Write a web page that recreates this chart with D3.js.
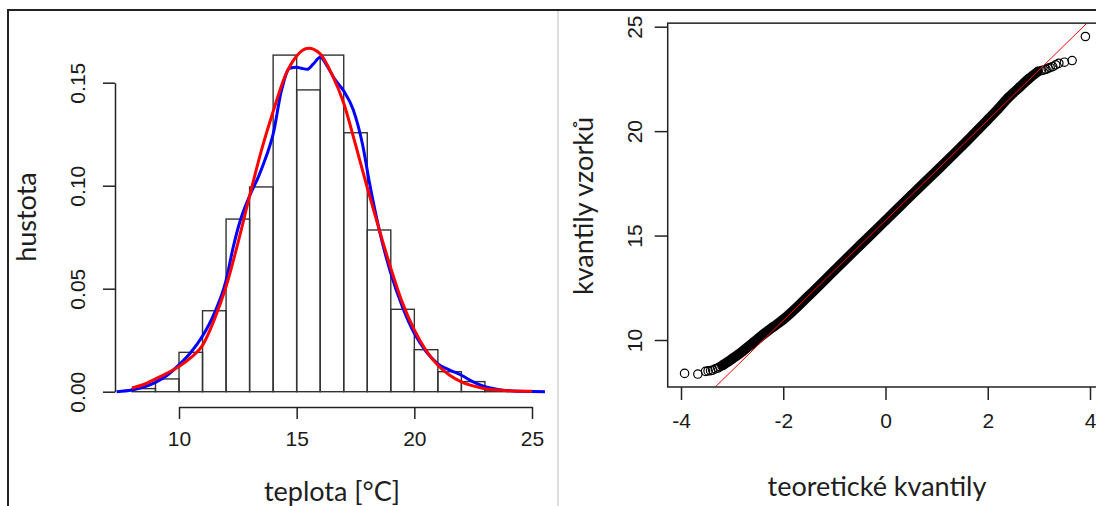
<!DOCTYPE html>
<html>
<head>
<meta charset="utf-8">
<script src="https://cdn.jsdelivr.net/npm/d3@7/dist/d3.min.js"></script>
<style>
  html, body { margin: 0; padding: 0; background: #fff; }
  svg { display: block; }
  .tick text { font-family: "Liberation Sans", Arial, sans-serif; font-size: 21px; fill: #1a1a1a; }
  .lab { font-family: Lato, "Open Sans", sans-serif; font-size: 27px; fill: #1e1e1e; }
</style>
</head>
<body>
<div id="chart"></div>
<script>
// histogram (density, bins of width 1)
var histLeft = [8, 9, 10, 11, 12, 13, 14, 15, 16, 17, 18, 19, 20, 21, 22, 23];
var histDensity = [0.0015, 0.0062, 0.0191, 0.0393, 0.0838, 0.0994, 0.1634, 0.1465,
                   0.1634, 0.1257, 0.0785, 0.0400, 0.0204, 0.0097, 0.0049, 0.0008];
var binWidth = 1;

// kernel density (blue)
var kdeX = [7.35, 8.0, 8.5, 9.0, 9.5, 10.0, 10.5, 11.0, 11.5, 12.0, 12.3, 12.6, 13.0, 13.4, 13.7,
            14.0, 14.35, 14.7, 15.0, 15.2, 15.45, 15.7, 16.0, 16.3, 16.6, 17.0, 17.4, 17.8, 18.1,
            18.5, 19.0, 19.5, 20.0, 20.5, 21.0, 21.5, 22.0, 22.5, 23.0, 23.5, 24.0, 25.0, 25.55];
var kdeY = [0.0, 0.0008, 0.0022, 0.0045, 0.0080, 0.0130, 0.0190, 0.0270, 0.0380, 0.0540, 0.0700,
            0.0830, 0.0950, 0.1050, 0.1140, 0.1250, 0.1460, 0.1570, 0.1575, 0.1570, 0.1565, 0.1590,
            0.1623, 0.1580, 0.1520, 0.1460, 0.1370, 0.1200, 0.1010, 0.0790, 0.0575, 0.0410, 0.0283,
            0.0195, 0.0135, 0.0105, 0.0080, 0.0048, 0.0024, 0.0012, 0.0005, 0.0001, 0.0];

// fitted normal (red)
var fitX = [8.0, 8.5, 9.0, 9.5, 10.0, 10.5, 11.0, 11.5, 12.0, 12.5, 13.0, 13.5, 14.0, 14.5, 15.0,
            15.5, 16.0, 16.5, 17.0, 17.5, 18.0, 18.5, 19.0, 19.5, 20.0, 20.5, 21.0, 21.5, 22.0,
            22.5, 23.0, 24.0, 25.0];
var fitY = [0.0018, 0.0035, 0.0062, 0.0090, 0.0122, 0.0165, 0.0225, 0.0350, 0.0510, 0.0720, 0.0950,
            0.1170, 0.1360, 0.1530, 0.1630, 0.1667, 0.1640, 0.1540, 0.1400, 0.1200, 0.0990, 0.0790,
            0.0600, 0.0430, 0.0300, 0.0200, 0.0128, 0.0080, 0.0048, 0.0028, 0.0014, 0.0005, 0.0002];

var histXTicks = [10, 15, 20, 25];
var histYTicks = [0, 0.05, 0.10, 0.15];

// QQ plot: dense part of the cloud (theoretical, sample)
var qqBandX = [-3.18, -3.0, -2.8, -2.6, -2.4, -2.2, -2.0, -1.5, -1.0, -0.5, 0, 0.5, 1.0, 1.5,
               2.0, 2.2, 2.4, 2.6, 2.8, 2.98];
var qqBandY = [8.80, 9.10, 9.45, 9.85, 10.25, 10.62, 10.98, 12.12, 13.33, 14.53, 15.72, 16.92,
               18.10, 19.30, 20.55, 21.05, 21.60, 22.05, 22.50, 22.85];
// QQ plot: single points in the tails
var qqTailX = [-3.93, -3.67, -3.52, -3.47, -3.42, -3.38, -3.33, -3.28, -3.24, -3.20,
               3.05, 3.10, 3.14, 3.18, 3.22, 3.27, 3.33, 3.39, 3.50, 3.65, 3.91];
var qqTailY = [8.40, 8.37, 8.50, 8.52, 8.53, 8.56, 8.62, 8.66, 8.72, 8.77,
               22.90, 22.93, 22.96, 23.01, 23.05, 23.09, 23.17, 23.25, 23.30, 23.38, 24.53];
// qqline end points
var qqLineX = [-3.33, 3.94];
var qqLineY = [7.75, 25.17];

var qqXTicks = [-4, -2, 0, 2, 4];
var qqYTicks = [10, 15, 20, 25];

var histXLabel = "teplota [°C]";
var histYLabel = "hustota";
var qqXLabel = "teoretické kvantily";
var qqYLabel = "kvantily vzorků";

var W = 1096, H = 506;
var svg = d3.select("#chart").append("svg").attr("width", W).attr("height", H);

// outer frame + separator
svg.append("path").attr("d", "M8," + H + " V10 H" + W)
    .attr("fill", "none").attr("stroke", "#222").attr("stroke-width", 2);
svg.append("line").attr("x1", 558).attr("x2", 558).attr("y1", 11).attr("y2", H)
    .attr("stroke", "#d4d4d4").attr("stroke-width", 1.5);

function styleAxis(g){
    g.selectAll("path.domain").attr("stroke", "#222").attr("stroke-width", 1.5);
    g.selectAll(".tick line").attr("stroke", "#222").attr("stroke-width", 1.5);
}

// R prints a plain hyphen for negatives
var plainFormat = function(d){ return String(d); };

// ---------- left: histogram ----------
var xL = d3.scaleLinear().domain([10, 25]).range([179, 532]);
var yL = d3.scaleLinear().domain([0, 0.15]).range([391.7, 82.7]);

var left = svg.append("g");

left.selectAll("rect.bar")
    .data(histLeft)
    .enter().append("rect")
    .attr("class", "bar")
    .attr("x", function(d){ return xL(d); })
    .attr("width", function(d){ return xL(d + binWidth) - xL(d); })
    .attr("y", function(d, i){ return yL(histDensity[i]); })
    .attr("height", function(d, i){ return yL(0) - yL(histDensity[i]); })
    .attr("fill", "none")
    .attr("stroke", "#333")
    .attr("stroke-width", 1.4);

var lineL = d3.line()
    .x(function(d){ return xL(d[0]); })
    .y(function(d){ return yL(d[1]); })
    .curve(d3.curveMonotoneX);

left.append("path")
    .datum(kdeX.map(function(x, i){ return [x, kdeY[i]]; }))
    .attr("d", lineL)
    .attr("fill", "none").attr("stroke", "#0000ff").attr("stroke-width", 3);

left.append("path")
    .datum(fitX.map(function(x, i){ return [x, fitY[i]]; }))
    .attr("d", lineL)
    .attr("fill", "none").attr("stroke", "#ff0000").attr("stroke-width", 3);

var gxL = left.append("g").attr("transform", "translate(0,407)")
    .call(d3.axisBottom(xL).tickValues(histXTicks).tickSize(12).tickSizeOuter(0).tickPadding(12)
        .tickFormat(plainFormat));
styleAxis(gxL);

var gyL = left.append("g").attr("transform", "translate(115,0)")
    .call(d3.axisLeft(yL).tickValues(histYTicks).tickSize(12).tickSizeOuter(0)
        .tickFormat(d3.format(".2f")));
styleAxis(gyL);
gyL.selectAll(".tick text")
    .attr("x", 0).attr("dy", "0.35em")
    .attr("text-anchor", "middle")
    .attr("transform", "translate(-37,0) rotate(-90)");

left.append("text").attr("class", "lab")
    .attr("text-anchor", "middle")
    .attr("transform", "translate(27,217) rotate(-90)")
    .attr("dy", "0.35em")
    .text(histYLabel);
left.append("text").attr("class", "lab")
    .attr("text-anchor", "middle")
    .attr("x", 332).attr("y", 501)
    .text(histXLabel);

// ---------- right: QQ plot ----------
var xR = d3.scaleLinear().domain([-4, 4]).range([681, 1090]);
var yR = d3.scaleLinear().domain([10, 25]).range([340, 26.7]);
var xLim = [-4.26, 4.26], yLim = [7.75, 25.17];

var right = svg.append("g");

svg.append("clipPath").attr("id", "qqclip").append("rect")
    .attr("x", xR(xLim[0])).attr("y", yR(yLim[1]))
    .attr("width", xR(xLim[1]) - xR(xLim[0]))
    .attr("height", yR(yLim[0]) - yR(yLim[1]));

var plot = right.append("g").attr("clip-path", "url(#qqclip)");

var lineR = d3.line()
    .x(function(d){ return xR(d[0]); })
    .y(function(d){ return yR(d[1]); })
    .curve(d3.curveMonotoneX);

var band = qqBandX.map(function(x, i){ return [x, qqBandY[i]]; });
plot.append("path")
    .datum(band)
    .attr("d", lineR)
    .attr("fill", "none").attr("stroke", "#000").attr("stroke-width", 10)
    .attr("stroke-linecap", "round");

var tails = qqTailX.map(function(x, i){ return [x, qqTailY[i]]; });
plot.selectAll("circle.pt")
    .data(band.concat(tails))
    .enter().append("circle")
    .attr("class", "pt")
    .attr("cx", function(d){ return xR(d[0]); })
    .attr("cy", function(d){ return yR(d[1]); })
    .attr("r", 4.2)
    .attr("fill", "none").attr("stroke", "#000").attr("stroke-width", 1.2);

plot.append("line")
    .attr("x1", xR(qqLineX[0])).attr("y1", yR(qqLineY[0]))
    .attr("x2", xR(qqLineX[1])).attr("y2", yR(qqLineY[1]))
    .attr("stroke", "#ff0000").attr("stroke-width", 1);

right.append("rect")
    .attr("x", xR(xLim[0])).attr("y", yR(yLim[1]))
    .attr("width", xR(xLim[1]) - xR(xLim[0]))
    .attr("height", yR(yLim[0]) - yR(yLim[1]))
    .attr("fill", "none").attr("stroke", "#222").attr("stroke-width", 1.5);

var gxR = right.append("g").attr("transform", "translate(0," + yR(yLim[0]) + ")")
    .call(d3.axisBottom(xR).tickValues(qqXTicks).tickSize(13).tickSizeOuter(0).tickPadding(13)
        .tickFormat(plainFormat));
styleAxis(gxR);
gxR.select("path.domain").remove();

var gyR = right.append("g").attr("transform", "translate(" + xR(xLim[0]) + ",0)")
    .call(d3.axisLeft(yR).tickValues(qqYTicks).tickSize(13).tickSizeOuter(0)
        .tickFormat(plainFormat));
styleAxis(gyR);
gyR.select("path.domain").remove();
gyR.selectAll(".tick text")
    .attr("x", 0).attr("dy", "0.35em")
    .attr("text-anchor", "middle")
    .attr("transform", "translate(-33,0) rotate(-90)");

right.append("text").attr("class", "lab")
    .attr("text-anchor", "middle")
    .attr("transform", "translate(584,206) rotate(-90)")
    .attr("dy", "0.35em")
    .text(qqYLabel);
right.append("text").attr("class", "lab")
    .attr("text-anchor", "middle")
    .attr("x", 877).attr("y", 496)
    .text(qqXLabel);
</script>
</body>
</html>
